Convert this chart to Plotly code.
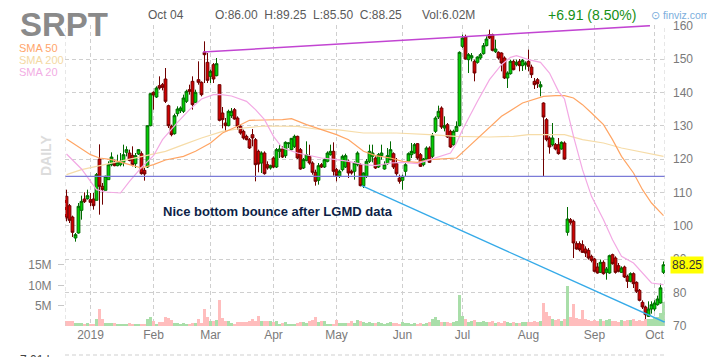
import plotly.graph_objects as go

# ---------------- data ----------------
# bar index 0 = 2018-12-19 ... 199 = 2019-10-04 (trading days)
opens = [108.8,106.0,102.6,96.3,97.8,104.6,108.0,108.1,107.8,108.0,
         107.6,120.0,111.8,110.6,113.8,118.3,119.0,118.0,118.3,119.0,
         122.0,121.8,121.1,118.6,121.5,121.6,116.6,117.6,130.0,140.0,
         138.6,142.0,142.3,144.0,136.0,129.8,127.6,133.6,134.5,134.3,
         137.3,140.8,143.3,137.0,143.8,143.0,152.0,149.0,144.8,148.3,
         145.0,142.3,133.8,130.8,130.0,133.0,134.8,132.3,129.8,128.3,
         126.8,125.8,127.3,125.8,122.3,118.8,121.8,118.3,117.3,120.3,
         117.6,122.3,123.0,121.0,124.6,122.8,123.8,126.8,122.8,117.3,
         119.6,120.8,118.8,116.0,113.6,118.3,117.6,119.3,121.3,122.3,
         116.8,114.8,116.8,117.6,119.3,116.3,116.3,118.3,118.3,112.0,
         114.8,119.3,120.8,120.3,117.6,121.0,117.0,118.6,119.8,121.6,
         118.6,114.3,113.6,116.3,119.3,121.3,121.8,124.6,121.3,118.3,
         120.0,123.3,120.8,128.3,132.6,135.3,129.3,130.3,128.3,124.3,
         128.3,130.0,153.8,156.6,149.8,150.3,149.3,149.0,150.3,151.6,
         154.0,157.3,157.3,152.2,152.0,151.8,150.3,144.3,145.6,149.3,
         148.3,149.3,148.0,148.3,149.3,147.6,143.3,143.8,141.6,136.8,
         131.8,126.3,124.3,124.3,124.3,123.0,124.8,98.0,101.8,101.3,
         94.6,94.6,94.3,93.0,92.6,90.8,90.0,87.6,86.0,89.0,
         86.0,85.8,91.3,90.3,88.0,86.0,87.6,84.8,83.3,85.6,
         83.0,80.6,77.0,75.6,72.8,75.0,75.0,76.3,76.8,86.0]
highs = [110.8,106.5,103.0,97.8,106.8,109.0,110.0,110.8,109.8,109.8,
         115.8,124.4,112.8,115.0,119.3,122.0,119.8,121.3,121.8,124.3,
         123.8,122.8,123.8,121.8,123.0,122.3,117.3,130.0,139.8,140.3,
         141.8,144.8,142.8,147.3,136.3,130.3,133.6,135.8,135.8,139.3,
         140.8,142.3,144.8,140.8,149.3,143.3,155.3,151.8,146.8,148.8,
         150.3,142.3,135.6,132.3,134.8,135.3,135.3,132.8,130.3,128.8,
         127.3,126.3,129.0,126.3,122.8,122.3,122.3,119.3,118.3,120.8,
         123.3,124.3,123.8,125.3,125.0,126.3,127.3,127.0,123.3,120.3,
         125.3,124.3,119.3,116.8,118.8,118.8,120.3,122.3,124.3,125.0,
         117.3,116.8,121.3,121.6,119.8,116.8,119.3,122.3,118.8,116.0,
         120.0,124.3,124.3,120.8,121.8,124.3,119.3,123.3,125.3,122.0,
         120.3,115.3,115.3,118.8,122.0,124.8,124.8,124.8,121.8,120.3,
         123.8,123.8,127.8,132.8,136.0,135.8,132.8,130.8,128.8,128.8,
         131.3,152.3,157.3,157.3,151.8,151.8,149.8,150.8,151.8,154.8,
         156.8,158.8,157.6,155.8,152.3,152.0,150.8,146.3,149.8,149.8,
         149.8,150.0,150.0,149.3,152.8,148.3,144.3,144.3,143.3,137.0,
         132.3,126.8,130.8,124.8,126.3,125.3,125.3,105.6,102.3,101.8,
         95.3,95.3,95.6,93.8,93.3,91.3,90.3,88.8,89.8,89.6,
         87.6,91.3,91.6,90.8,88.8,87.8,88.0,85.3,86.0,86.0,
         83.3,81.0,77.6,76.0,77.3,77.3,77.6,79.0,82.6,89.25]
lows = [101.3,100.8,96.6,95.2,97.6,101.8,106.8,107.8,105.8,104.8,
        107.6,103.3,106.3,110.6,113.8,117.8,117.8,117.8,117.8,117.8,
        120.8,119.3,117.8,117.3,121.2,115.3,113.5,117.3,129.8,134.8,
        138.3,140.8,140.6,136.8,129.3,126.8,127.3,132.8,133.8,133.8,
        136.8,139.3,134.8,136.8,142.3,138.8,142.8,142.8,142.8,142.8,
        144.8,131.3,129.2,128.3,129.8,132.3,131.8,128.8,127.3,125.8,
        125.6,123.0,123.8,113.3,116.0,115.8,115.3,116.8,116.8,117.3,
        117.3,120.3,120.3,120.3,123.3,122.6,123.3,120.0,116.8,117.0,
        119.3,118.3,115.3,112.0,112.3,117.3,117.3,119.0,121.0,115.0,
        113.3,114.3,116.3,117.3,114.3,115.3,113.8,117.8,111.8,111.3,
        114.3,118.8,119.0,117.0,117.3,119.8,116.8,118.3,119.6,117.0,
        115.0,112.6,110.8,114.8,119.0,120.3,121.6,119.8,117.6,117.8,
        119.8,118.8,120.3,127.8,132.0,129.0,128.3,126.3,123.3,124.0,
        128.3,129.8,153.3,149.8,145.8,149.3,143.3,148.6,149.8,151.3,
        153.8,156.0,152.3,151.8,149.8,146.3,144.0,141.3,145.3,146.6,
        147.8,146.3,146.4,146.8,146.3,144.3,141.0,141.3,138.8,114.8,
        125.3,121.6,123.8,122.6,121.3,122.8,119.8,97.0,100.3,90.3,
        92.8,92.3,91.8,90.6,89.8,89.0,86.0,85.6,85.8,85.3,
        83.8,85.6,88.3,85.6,86.0,85.8,84.3,81.3,83.0,81.3,
        79.8,77.3,75.0,72.0,72.6,73.6,74.3,76.0,76.6,85.5]
closes = [102.3,101.6,98.0,97.3,105.8,107.3,107.2,109.0,107.0,106.0,
          115.3,111.8,110.8,114.8,118.3,120.6,118.0,119.0,119.3,121.3,
          122.8,119.6,118.3,121.0,122.8,115.6,115.5,130.0,139.6,139.2,
          141.3,141.3,141.5,137.3,130.0,127.3,133.0,135.0,135.3,138.3,
          140.3,140.3,136.3,140.0,143.0,139.3,151.3,143.6,146.3,144.0,
          148.6,131.6,131.8,130.0,134.3,134.3,132.0,129.8,127.8,126.3,
          125.8,123.3,126.3,118.3,118.5,121.8,115.6,117.3,118.0,117.6,
          122.8,123.0,120.6,125.0,124.8,126.2,126.8,120.3,117.0,119.8,
          121.3,118.8,116.0,113.3,118.0,117.6,119.8,121.8,122.3,116.3,
          115.0,116.3,120.8,121.0,115.8,115.8,118.8,121.8,112.0,115.8,
          119.3,122.3,121.8,117.3,121.3,121.8,118.3,121.0,122.8,117.6,
          115.6,113.3,114.8,118.3,121.6,122.3,124.3,120.3,117.8,120.0,
          123.3,119.0,127.0,132.3,134.3,129.6,130.0,126.6,123.6,128.3,
          129.8,152.0,156.3,150.0,151.3,151.0,145.8,150.6,151.3,154.0,
          156.0,156.3,152.6,153.0,150.3,148.8,144.3,145.8,149.3,146.8,
          149.0,148.0,149.6,148.8,147.8,145.3,142.3,142.6,142.3,132.6,
          125.8,123.6,126.3,123.0,121.6,125.0,120.0,102.0,101.0,94.8,
          93.0,92.8,92.0,91.8,90.3,89.6,86.3,85.8,89.0,85.6,
          87.0,91.0,88.6,86.0,86.3,87.3,84.6,83.3,85.6,82.6,
          80.3,77.6,75.6,73.3,75.0,76.3,76.8,78.0,81.34,88.25]
volume_m = [1.2,1.3,1.3,0.8,0.8,0.8,0.5,0.8,0.5,0.5,
            1.8,4.1,1.6,0.8,0.8,0.8,0.8,0.6,0.6,0.6,
            0.6,0.7,0.5,0.4,0.5,0.6,0.4,1.7,2.2,1.3,
            0.5,1.0,1.0,2.2,2.0,1.5,0.8,0.8,0.5,0.8,
            0.6,0.6,0.8,0.8,1.8,0.8,4.3,2.2,1.2,1.3,
            1.5,6.4,2.0,1.3,1.2,0.8,0.5,1.0,1.0,1.0,
            1.0,1.3,1.8,1.3,2.5,1.3,1.3,1.3,1.3,1.0,
            1.2,0.5,0.8,1.0,0.5,0.5,0.5,0.8,1.0,1.0,
            0.8,1.2,1.5,2.3,1.0,1.2,1.2,0.3,0.3,0.6,
            1.5,0.8,0.8,0.8,0.8,1.2,0.8,1.5,1.3,1.0,
            0.8,1.0,0.8,0.7,0.9,0.7,0.6,0.8,0.9,0.7,
            0.8,0.6,0.9,0.8,0.7,0.6,0.8,0.6,0.7,0.6,
            0.8,1.0,1.8,2.1,1.5,1.0,0.9,1.0,0.8,1.0,
            1.2,7.5,2.5,1.6,1.0,1.3,1.5,0.9,1.0,1.2,
            0.9,1.1,1.3,0.8,0.9,0.7,1.2,1.0,0.8,0.9,
            0.7,0.8,1.0,0.9,1.0,1.1,1.2,1.0,1.3,5.7,
            3.4,2.4,1.6,1.5,1.6,1.2,1.6,9.8,2.2,5.5,
            2.0,1.6,4.0,1.8,1.5,1.3,1.4,1.2,1.6,1.3,
            1.5,1.7,1.3,1.2,1.1,1.5,1.2,1.5,1.4,1.6,
            1.3,1.5,1.3,1.8,1.7,1.8,2.0,2.3,3.1,6.02]

# moving averages (bar index, value)
sma20_idx = [0,5,10,13,18,21,25,29,32,37,41,45,49,51,55,60,63,66,69,72,77,81,85,90,94,99,
             103,108,112,117,121,125,128,130,132,137,141,145,148,150,154,158,161,164,166,
             169,172,175,179,182,185,189,192,195,199]
sma20_val = [121.5,117.0,110.8,110.1,109.8,113.3,117.5,121.0,125.8,131.0,134.8,138.0,139.3,139.4,
             138.9,137.3,134.8,131.8,126.8,123.3,121.8,121.0,120.3,119.8,119.3,118.3,
             118.0,118.8,119.0,118.6,119.8,121.0,121.8,124.8,128.8,137.3,143.8,148.3,150.5,
             151.0,149.8,149.0,145.8,140.3,138.0,126.8,116.8,108.8,101.8,95.8,90.8,88.8,
             85.8,82.8,82.3]
sma50_idx = [0,3,8,11,15,21,25,29,33,39,43,48,52,57,61,66,72,75,80,85,90,94,99,103,108,112,
             117,121,125,130,133,139,145,152,159,163,166,169,172,175,179,182,185,189,192,195,199]
sma50_val = [126.0,124.3,121.3,120.3,119.8,118.3,117.3,118.3,119.7,120.8,122.3,124.8,127.8,129.8,
             131.6,131.7,131.8,132.1,130.3,128.8,127.3,125.8,122.3,121.0,120.3,119.3,119.0,
             119.8,120.0,120.3,122.8,127.8,132.8,136.8,138.8,139.0,139.0,138.3,136.3,133.8,
             130.3,125.8,120.8,115.8,110.8,106.8,103.0]
sma200_idx = [0,5,10,15,21,28,33,39,45,52,59,66,77,83,90,99,110,121,130,141,149,154,166,
              172,179,185,192,199]
sma200_val = [115.3,116.8,117.8,118.8,119.8,121.3,122.3,124.3,126.3,128.3,129.3,129.9,129.8,
              129.0,128.8,127.8,127.8,127.3,126.8,126.6,126.8,127.3,127.3,125.8,124.8,123.3,
              122.0,120.8]

# drawn trend lines (bar index, price)
resist_idx = [45.5, 194.5]
resist_val = [152.1, 160.0]
support_level = 114.8
down_idx = [98.4, 199.5]
down_val = [112.0, 71.0]

month_idx = [8, 29, 48, 69, 90, 112, 132, 154, 176, 196]
month_lbl = ['2019', 'Feb', 'Mar', 'Apr', 'May', 'Jun', 'Jul', 'Aug', 'Sep', 'Oct']
price_ticks = [70, 80, 90, 100, 110, 120, 130, 140, 150, 160]
vol_ticks = [5, 10, 15]
vol_lbl = ['5M', '10M', '15M']

# ---------------- figure ----------------
W, H = 707, 357
L, R, T, B = 65, 665, 25, 326
xs = list(range(len(closes)))
FONT = "Liberation Sans, Arial, sans-serif"


def px(x):
    return (x - L) / (R - L)


def py(y):
    return (B - y) / (B - T)


vol_col = ['#a9dea9' if c >= o else '#ffbdbd' for o, c in zip(opens, closes)]

fig = go.Figure()
fig.add_trace(go.Bar(x=xs, y=volume_m, marker=dict(color=vol_col, line=dict(width=0)),
                     yaxis='y', hoverinfo='skip', showlegend=False))
fig.add_trace(go.Scatter(x=sma200_idx, y=sma200_val, yaxis='y2', mode='lines',
                         line=dict(color='#f6dca8', width=1.2), showlegend=False))
fig.add_trace(go.Scatter(x=sma50_idx, y=sma50_val, yaxis='y2', mode='lines',
                         line=dict(color='#ffa564', width=1.2), showlegend=False))
fig.add_trace(go.Scatter(x=sma20_idx, y=sma20_val, yaxis='y2', mode='lines',
                         line=dict(color='#f3a9e4', width=1.2), showlegend=False))
fig.add_trace(go.Candlestick(x=xs, open=opens, high=highs, low=lows, close=closes, yaxis='y2',
                             increasing=dict(fillcolor='#00d000', line=dict(color='#006a00', width=1)),
                             decreasing=dict(fillcolor='#d00000', line=dict(color='#700000', width=1)),
                             whiskerwidth=0, showlegend=False))
fig.add_trace(go.Scatter(x=resist_idx, y=resist_val, yaxis='y2', mode='lines',
                         line=dict(color='#c245d2', width=1.5), showlegend=False))
fig.add_trace(go.Scatter(x=[-0.5, 199.5], y=[support_level, support_level], yaxis='y2', mode='lines',
                         line=dict(color='#7b7bd8', width=1.3), showlegend=False))
fig.add_trace(go.Scatter(x=down_idx, y=down_val, yaxis='y2', mode='lines',
                         line=dict(color='#35aae8', width=1.3), showlegend=False))

grid = '#cfcfcf'
fig.update_layout(
    width=W, height=H, margin=dict(l=L, r=W - R, t=T, b=H - B),
    paper_bgcolor='white', plot_bgcolor='white',
    font=dict(family=FONT, size=11, color='#808080'),
    boxgap=0.08, boxgroupgap=0, bargap=0,
    xaxis=dict(range=[-0.5, 199.5], tickvals=month_idx, ticktext=month_lbl,
               showgrid=True, gridcolor=grid, griddash='4px,3px', gridwidth=1,
               zeroline=False, rangeslider=dict(visible=False), ticks='',
               tickfont=dict(size=12, color='#7a7a7a'), showline=False, fixedrange=True),
    yaxis=dict(range=[0, 74], tickvals=vol_ticks, ticktext=vol_lbl, side='left',
               showgrid=False, zeroline=False, ticks='outside', ticklen=6, tickcolor='#c8c8c8',
               tickfont=dict(size=12, color='#7a7a7a'), ticklabelstandoff=4),
    yaxis2=dict(range=[69.9, 160.2], overlaying='y', side='right', tickvals=price_ticks,
                showgrid=True, gridcolor=grid, griddash='4px,3px', zeroline=False,
                ticks='', tickfont=dict(size=12, color='#7a7a7a'), ticklabelstandoff=7),
    showlegend=False,
)

shapes = []
for xv in (-0.5, 199.5):
    shapes.append(dict(type='line', xref='x', yref='paper', x0=xv, x1=xv, y0=0, y1=1,
                       line=dict(color=grid, width=1, dash='4px,3px')))
shapes.append(dict(type='line', xref='paper', yref='paper', x0=0, x1=1, y0=py(355), y1=py(355),
                   line=dict(color=grid, width=1, dash='4px,3px')))
fig.update_layout(shapes=shapes)

ann = []


def txt(s, x, y, size, color, xanchor='left', weight='normal', angle=0, bg=None):
    d = dict(text=s, x=px(x), y=py(y), xref='paper', yref='paper', showarrow=False,
             xanchor=xanchor, yanchor='middle', textangle=angle,
             font=dict(family=FONT, size=size, color=color, weight=weight))
    if bg:
        d.update(bgcolor=bg, borderpad=1)
    ann.append(d)


txt('SRPT', 18, 24, 33, '#8a8a8a', weight='bold')
txt('SMA 50', 17, 48, 11, '#ffa56c')
txt('SMA 200', 17, 60, 11, '#f4d9a4')
txt('SMA 20', 17, 72, 11, '#f2ade4')
txt('DAILY', 46, 156, 14, '#dcdcdc', xanchor='center', weight='bold', angle=-90)
txt('Oct 04', 146, 15, 12, '#5a5a5a')
txt('O:86.00  H:89.25  L:85.50  C:88.25', 213, 15, 12, '#5a5a5a')
txt('Vol:6.02M', 420, 15, 12, '#5a5a5a')
txt('+6.91 (8.50%)', 546, 15, 14, '#169016')
txt('⊙ finviz.com', 649, 15, 10.5, '#7aaedc')
txt('Nice bottom bounce after LGMD data', 278, 211, 13, '#0d1f47', xanchor='center', weight='bold')
txt('88.25', 670, 265, 12, '#333333', bg='#ffff00')
txt('7.01 k', 18, 360, 12, '#444444')
fig.update_layout(annotations=ann)

fig.write_html('out.html', config={'displayModeBar': False},
               post_script="document.body.style.margin='0';document.body.style.overflow='hidden';")
